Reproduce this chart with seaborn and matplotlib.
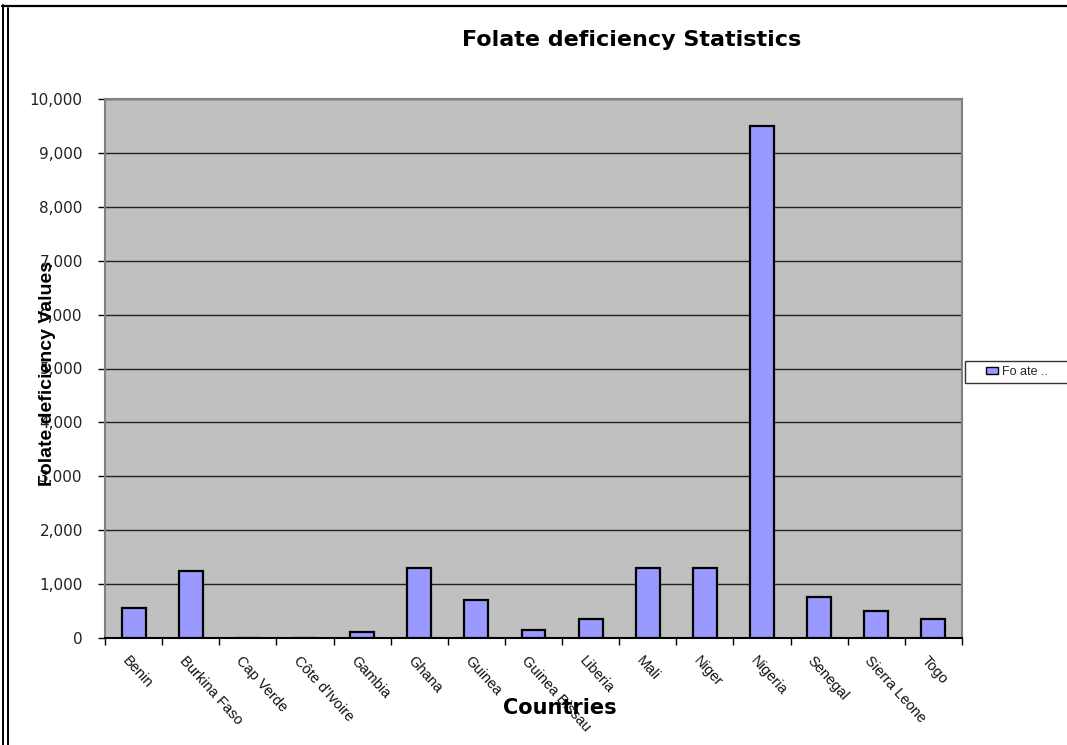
import matplotlib
matplotlib.use("Agg")
import matplotlib.pyplot as plt
import matplotlib.transforms as mtransforms
from matplotlib.lines import Line2D
from matplotlib.patches import Rectangle
from matplotlib.container import BarContainer
from matplotlib.legend_handler import HandlerPatch, update_from_first_child
import pandas as pd
import seaborn as sns

# ---- data ----
countries = ["Benin", "Burkina Faso", "Cap Verde", "Côte d'Ivoire", "Gambia",
             "Ghana", "Guinea", "Guinea Bissau", "Liberia", "Mali", "Niger",
             "Nigeria", "Senegal", "Sierra Leone", "Togo"]
values = [550, 1240, 0, 0, 105, 1290, 700, 150, 345, 1290, 1290, 9500, 760, 495, 355]
y_ticks = [0, 1000, 2000, 3000, 4000, 5000, 6000, 7000, 8000, 9000, 10000]
y_tick_labels = ["0", "1,000", "2,000", "3,000", "4,000", "5,000",
                 "6,000", "7,000", "8,000", "9,000", "10,000"]
title = "Folate deficiency Statistics"
x_title = "Countries"
y_title = "Folate deficiency Values"
legend_label = "Fo ate .."

BAR = "#9999FF"
PLOT_BG = "#C0C0C0"

sns.set_style("ticks")
plt.rcParams["font.family"] = ["Liberation Sans", "DejaVu Sans"]

W, H = 1067, 745
fig = plt.figure(figsize=(W / 100, H / 100), dpi=100)
fig.patch.set_facecolor("white")

# plot area in pixel terms
left, right, top, bottom = 105, 962, 99, 638
ax = fig.add_axes([left / W, 1 - bottom / H, (right - left) / W, (bottom - top) / H])

df = pd.DataFrame({"Country": countries, "Value": values})
sns.barplot(data=df, x="Country", y="Value", color=BAR, saturation=1,
            width=0.42, edgecolor="black", linewidth=1.6, ax=ax,
            label=legend_label, zorder=3)

ax.set_facecolor(PLOT_BG)
ax.set_xlim(-0.5, len(countries) - 0.5)
ax.set_ylim(0, 10000)

# y axis
ax.set_yticks(y_ticks)
ax.set_yticklabels(y_tick_labels, fontfamily="DejaVu Sans", fontsize=11, color="#222222")
ax.yaxis.grid(True, color="#202020", linewidth=1.0, zorder=1)
ax.set_axisbelow(True)
ax.tick_params(axis="y", which="major", length=5, width=1, color="black",
               direction="out", pad=11, left=True)

# x axis: labels at category centres, tick marks at category boundaries
ax.set_xticks(range(len(countries)))
ax.set_xticklabels(countries, rotation=-48, ha="left", va="top",
                   rotation_mode="anchor", fontsize=10.5, color="#111111")
ax.set_xticks([i - 0.5 for i in range(len(countries) + 1)], minor=True)
ax.tick_params(axis="x", which="major", length=0, pad=11, bottom=True)
ax.tick_params(axis="x", which="minor", length=5, width=1, color="black",
               direction="out", bottom=True)
shift = mtransforms.ScaledTranslation(-4 / 100, 0, fig.dpi_scale_trans)
for lbl in ax.get_xticklabels():
    lbl.set_transform(lbl.get_transform() + shift)

for side in ("left", "right", "top"):
    ax.spines[side].set_color("#808080")
    ax.spines[side].set_linewidth(1.5)
ax.spines["bottom"].set_color("black")
ax.spines["bottom"].set_linewidth(1.5)

# axis titles
ax.set_xlabel(x_title, fontsize=15, fontweight="bold", fontfamily="DejaVu Sans",
              color="black")
ax.xaxis.set_label_coords((560 - left) / (right - left), (bottom - 698) / (bottom - top))
ax.set_ylabel(y_title, fontsize=14, fontweight="bold", color="black")
ax.yaxis.set_label_coords((56 - left) / (right - left), (bottom - 373) / (bottom - top))

# chart title
fig.text(632 / W, 1 - 40 / H, title, ha="center", va="center",
         fontsize=16, fontweight="bold", fontfamily="DejaVu Sans", color="black")


# legend: small square key sitting at the right of a wide handle slot
def small_key(legend, orig_handle, xdescent, ydescent, width, height, fontsize):
    s = 0.42 * width
    return Rectangle((width - s - xdescent, -ydescent + 0.1 * height), s, 0.8 * height)


leg = ax.legend(loc="upper left", bbox_to_anchor=(965 / W, 1 - 361 / H, 130 / W, 0),
                bbox_transform=fig.transFigure, mode="expand", frameon=True,
                fancybox=False, shadow=False, fontsize=9, handlelength=2.2,
                handleheight=0.6, handletextpad=0.35, borderpad=0.4, borderaxespad=0,
                handler_map={BarContainer: HandlerPatch(patch_func=small_key,
                                                        update_func=update_from_first_child)})
leg.get_frame().set_edgecolor("black")
leg.get_frame().set_linewidth(1.0)
leg.get_frame().set_facecolor("white")
for h in leg.legend_handles:
    h.set_linewidth(1.0)

# outer frame of the chart area
fig.add_artist(Line2D([2 / W, 1], [1 - 6 / H, 1 - 6 / H], transform=fig.transFigure,
                      color="black", linewidth=1.6))
fig.add_artist(Line2D([2.5 / W, 2.5 / W], [0, 1 - 5 / H], transform=fig.transFigure,
                      color="black", linewidth=1.4))
fig.add_artist(Line2D([7.5 / W, 7.5 / W], [0, 1 - 8 / H], transform=fig.transFigure,
                      color="black", linewidth=1.4))

fig.savefig("out.png", dpi=100)
